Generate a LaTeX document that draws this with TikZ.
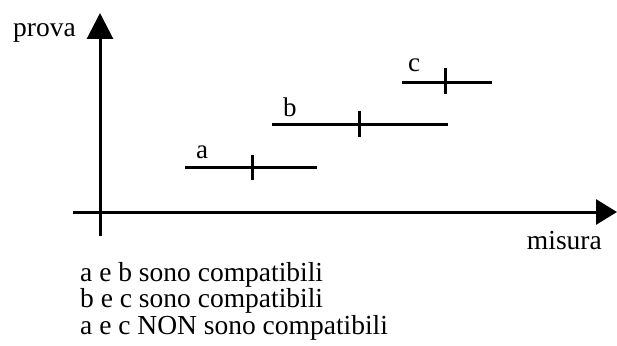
\documentclass[tikz,border=0pt]{standalone}
\usepackage{fontspec}
\setmainfont{Liberation Serif}
\usetikzlibrary{arrows.meta}
\begin{document}
\begin{tikzpicture}[x=1pt,y=-1pt,
  axis/.style={line width=3pt,-{Triangle[length=26pt,width=26pt]}},
  seg/.style={line width=3pt},
  lbl/.style={font=\fontsize{27}{30}\selectfont,inner sep=0pt},
  note/.style={font=\fontsize{27.5}{30}\selectfont,inner sep=0pt,anchor=base west}]
\useasboundingbox (0,0) rectangle (617,345);
% axes
\coordinate (ybot) at (100,236);
\coordinate (ytop) at (100,13);
\coordinate (xl) at (73,212);
\coordinate (xr) at (617,212);
\draw[axis] (ybot) -- (ytop);
\draw[line width=3pt,-{Triangle[length=21pt,width=25pt]}] (xl) -- (xr);
\node[note,anchor=base east] (prova) at (76,37) {prova};
\node[note,anchor=base east] (misura) at (602,249) {misura};
% segment a
\coordinate (a1) at (185,167); \coordinate (a2) at (317,167);
\coordinate (at1) at (252,155); \coordinate (at2) at (252,180);
\draw[seg] (a1) -- (a2); \draw[seg] (at1) -- (at2);
\node[lbl,anchor=base west] (la) at (196,158) {a};
% segment b
\coordinate (b1) at (272,124); \coordinate (b2) at (448,124);
\coordinate (bt1) at (359,111); \coordinate (bt2) at (359,137);
\draw[seg] (b1) -- (b2); \draw[seg] (bt1) -- (bt2);
\node[lbl,anchor=base west] (lb) at (283,116) {b};
% segment c
\coordinate (c1) at (402,82); \coordinate (c2) at (492,82);
\coordinate (ct1) at (445,68); \coordinate (ct2) at (445,94);
\draw[seg] (c1) -- (c2); \draw[seg] (ct1) -- (ct2);
\node[lbl,anchor=base west] (lc) at (408,71) {c};
% notes
\node[note] (n1) at (80,281) {a e b sono compatibili};
\node[note] (n2) at (80,307.5) {b e c sono compatibili};
\node[note] (n3) at (80,334) {a e c NON sono compatibili};
\end{tikzpicture}
\end{document}
